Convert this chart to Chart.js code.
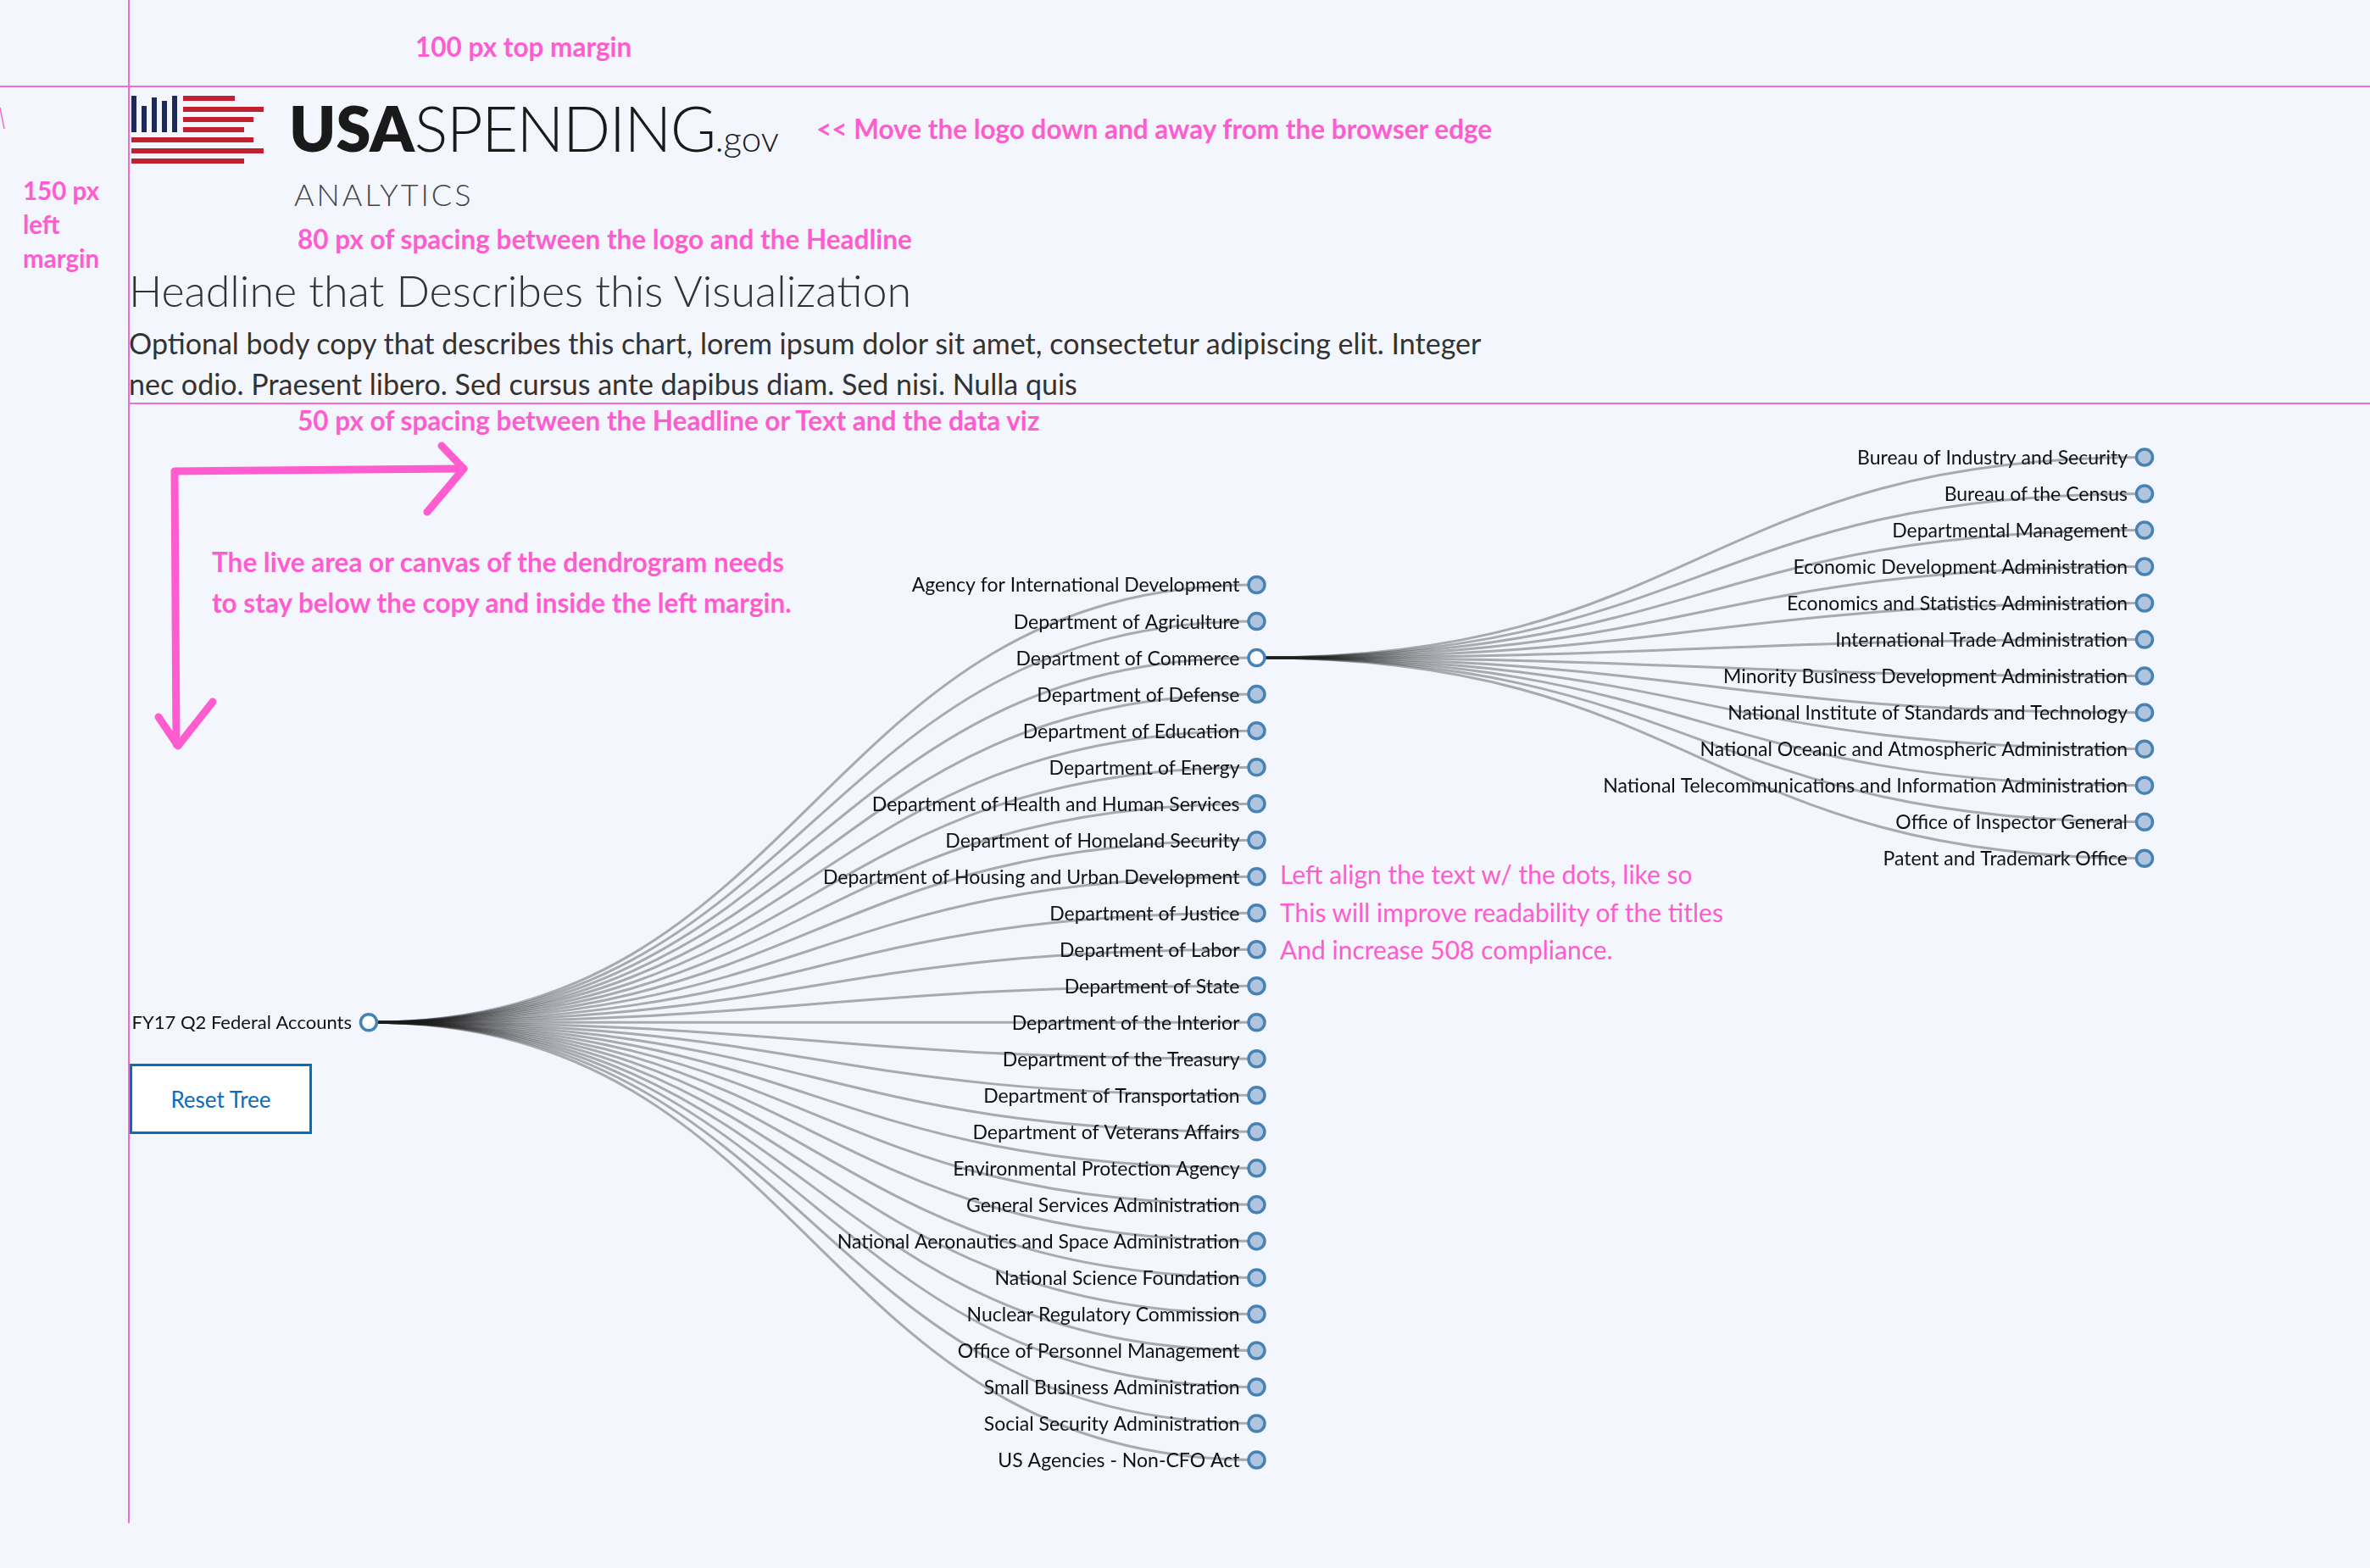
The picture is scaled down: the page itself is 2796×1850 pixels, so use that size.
<!DOCTYPE html>
<html>
<head>
<meta charset="utf-8">
<title>USAspending Analytics - FY17 Q2 Federal Accounts</title>
<script src="https://cdn.jsdelivr.net/npm/chart.js@4.4.1/dist/chart.umd.min.js"></script>
<style>
  html, body { margin: 0; padding: 0; }
  body {
    width: 2796px; height: 1850px; position: relative; overflow: hidden;
    background: #f4f6fe; font-family: Lato, "Open Sans", sans-serif;
  }
  .abs { position: absolute; white-space: nowrap; line-height: 1; }
  .note { color: #ff5ccf; font-weight: 700; font-size: 31.5px; }
  .note-soft { color: #ff5ccf; font-weight: 400; font-size: 30px; line-height: 44.5px; }
  .guide { position: absolute; background: #f06ad8; }
  #tree { position: absolute; left: 0; top: 500px; width: 2796px; height: 1300px; }
  #reset {
    position: absolute; left: 153px; top: 1255px; width: 215px; height: 83px;
    box-sizing: border-box; border: 3px solid #0071bc; background: #fff;
    color: #0b6cbf; font-size: 26px; display: flex; align-items: center; justify-content: center;
  }
</style>
</head>
<body>

<!-- layout guides -->
<div class="guide" style="left:0; top:101px; width:2796px; height:2px;"></div>
<div class="guide" style="left:151px; top:0; width:2px; height:1797px;"></div>
<div class="guide" style="left:152px; top:475px; width:2644px; height:2px;"></div>

<div class="abs note" style="left:490px; top:40px;">100 px top margin</div>
<div class="abs note" style="left:963px; top:137px;">&lt;&lt; Move the logo down and away from the browser edge</div>
<div class="abs note" style="left:27px; top:205px; line-height:40px; font-size:29.5px; white-space:normal;">150 px<br>left<br>margin</div>
<div class="abs note" style="left:351px; top:267px;">80 px of spacing between the logo and the Headline</div>
<div class="abs note" style="left:351px; top:481px;">50 px of spacing between the Headline or Text and the data viz</div>
<div class="abs note" style="left:250px; top:639px; line-height:48px;">The live area or canvas of the dendrogram needs<br>to stay below the copy and inside the left margin.</div>
<div class="abs note-soft" style="left:1510px; top:1009px;">Left align the text w/ the dots, like so<br>This will improve readability of the titles<br>And increase 508 compliance.</div>

<!-- logo -->
<svg class="abs" style="left:0; top:0;" width="400" height="260">
  <g fill="#1b2a5b">
    <rect x="155" y="113" width="6" height="43"/>
    <rect x="167" y="125" width="6" height="31"/>
    <rect x="179" y="115" width="6" height="41"/>
    <rect x="191" y="119" width="6" height="37"/>
    <rect x="203" y="113" width="6" height="43"/>
  </g>
  <g fill="#c1202e">
    <rect x="216" y="113" width="61" height="6"/>
    <rect x="216" y="126" width="95" height="6"/>
    <rect x="216" y="138" width="83" height="6"/>
    <rect x="216" y="150" width="72" height="6"/>
    <rect x="155" y="162" width="144" height="6"/>
    <rect x="155" y="175" width="156" height="6"/>
    <rect x="155" y="187" width="133" height="6"/>
  </g>
  <line x1="0" y1="127" x2="5" y2="152" stroke="#f06ad8" stroke-width="1.5"/>
</svg>
<div class="abs" style="left:341px; top:114px; font-size:74px; color:#1a1a1a;">
  <span style="font-weight:800;">USA</span><span style="font-weight:300; letter-spacing:-1.5px;">SPENDING</span><span style="font-weight:300; font-size:42px;">.gov</span>
</div>
<div class="abs" style="left:347px; top:211px; font-size:36px; font-weight:300; color:#444; letter-spacing:3px;">ANALYTICS</div>

<!-- copy -->
<div class="abs" style="left:152px; top:316px; font-size:52px; font-weight:300; color:#333;">Headline that Describes this Visualization</div>
<div class="abs" style="left:152px; top:381px; font-size:34px; line-height:48px; color:#333;">Optional body copy that describes this chart, lorem ipsum dolor sit amet, consectetur adipiscing elit. Integer<br>nec odio. Praesent libero. Sed cursus ante dapibus diam. Sed nisi. Nulla quis</div>

<!-- hand drawn arrow -->
<svg class="abs" style="left:0; top:0; pointer-events:none;" width="600" height="900">
  <g fill="none" stroke="#ff5ccf" stroke-width="9" stroke-linecap="round" stroke-linejoin="round">
    <polyline points="208,878 206,556 547,553"/>
    <polyline points="521,526 547,553 504,604"/>
    <polyline points="187,846 210,880 251,828"/>
  </g>
</svg>

<div id="tree"><canvas id="treeChart"></canvas></div>
<div id="reset">Reset Tree</div>

<script>
// tree content
const rootName = "FY17 Q2 Federal Accounts";
const agencyNames = [
  "Agency for International Development",
  "Department of Agriculture",
  "Department of Commerce",
  "Department of Defense",
  "Department of Education",
  "Department of Energy",
  "Department of Health and Human Services",
  "Department of Homeland Security",
  "Department of Housing and Urban Development",
  "Department of Justice",
  "Department of Labor",
  "Department of State",
  "Department of the Interior",
  "Department of the Treasury",
  "Department of Transportation",
  "Department of Veterans Affairs",
  "Environmental Protection Agency",
  "General Services Administration",
  "National Aeronautics and Space Administration",
  "National Science Foundation",
  "Nuclear Regulatory Commission",
  "Office of Personnel Management",
  "Small Business Administration",
  "Social Security Administration",
  "US Agencies - Non-CFO Act"
];
const expandedAgency = "Department of Commerce";
const commerceNames = [
  "Bureau of Industry and Security",
  "Bureau of the Census",
  "Departmental Management",
  "Economic Development Administration",
  "Economics and Statistics Administration",
  "International Trade Administration",
  "Minority Business Development Administration",
  "National Institute of Standards and Technology",
  "National Oceanic and Atmospheric Administration",
  "National Telecommunications and Information Administration",
  "Office of Inspector General",
  "Patent and Trademark Office"
];

// simple tree layout: depth -> x, sibling slot -> y, children centred on parent
const nodes = [{ name: rootName, depth: 0, row: (agencyNames.length - 1) / 2, open: true }];
agencyNames.forEach((name, i) => {
  nodes.push({ name, depth: 1, row: i, open: name === expandedAgency, parent: 0 });
});
const openIdx = 1 + agencyNames.indexOf(expandedAgency);
commerceNames.forEach((name, j) => {
  nodes.push({
    name, depth: 2, parent: openIdx, open: false,
    row: nodes[openIdx].row + j - (commerceNames.length - 1) / 2
  });
});

const treePlugin = {
  id: "treePlugin",
  beforeDatasetsDraw(chart) {
    const { ctx, scales: { x, y } } = chart;
    ctx.save();
    ctx.strokeStyle = "rgba(30,30,30,0.35)";
    ctx.lineWidth = 3;
    nodes.forEach(n => {
      if (n.parent === undefined) return;
      const p = nodes[n.parent];
      const x0 = x.getPixelForValue(p.depth), y0 = y.getPixelForValue(p.row);
      const x1 = x.getPixelForValue(n.depth), y1 = y.getPixelForValue(n.row);
      const xm = (x0 + x1) / 2;
      ctx.beginPath();
      ctx.moveTo(x0, y0);
      ctx.bezierCurveTo(xm, y0, xm, y1, x1, y1);
      ctx.stroke();
    });
    ctx.restore();
  },
  afterDatasetsDraw(chart) {
    const { ctx, scales: { x, y } } = chart;
    ctx.save();
    ctx.fillStyle = "#111";
    ctx.textAlign = "right";
    ctx.textBaseline = "middle";
    nodes.forEach(n => {
      const size = n.depth === 0 ? 22 : 23;
      ctx.font = size + "px Lato";
      ctx.fillText(n.name, x.getPixelForValue(n.depth) - 20, y.getPixelForValue(n.row) + 1);
    });
    ctx.restore();
  }
};

new Chart(document.getElementById("treeChart"), {
  type: "scatter",
  data: {
    datasets: [{
      label: "Federal accounts",
      data: nodes.map(n => ({ x: n.depth, y: n.row })),
      pointRadius: 9.5,
      pointBorderWidth: 3.5,
      borderColor: "#4682b4",
      backgroundColor: nodes.map(n => n.open ? "#ffffff" : "#b0c4de"),
      clip: false
    }]
  },
  options: {
    responsive: true,
    maintainAspectRatio: false,
    animation: false,
    events: [],
    layout: { padding: { left: 435, right: 266, top: 39.5, bottom: 77.5 } },
    scales: {
      x: { type: "linear", min: 0, max: 2, display: false },
      y: { type: "linear", min: -3.5, max: 24, reverse: true, display: false }
    },
    plugins: { legend: { display: false }, tooltip: { enabled: false } }
  },
  plugins: [treePlugin]
});
</script>
</body>
</html>
